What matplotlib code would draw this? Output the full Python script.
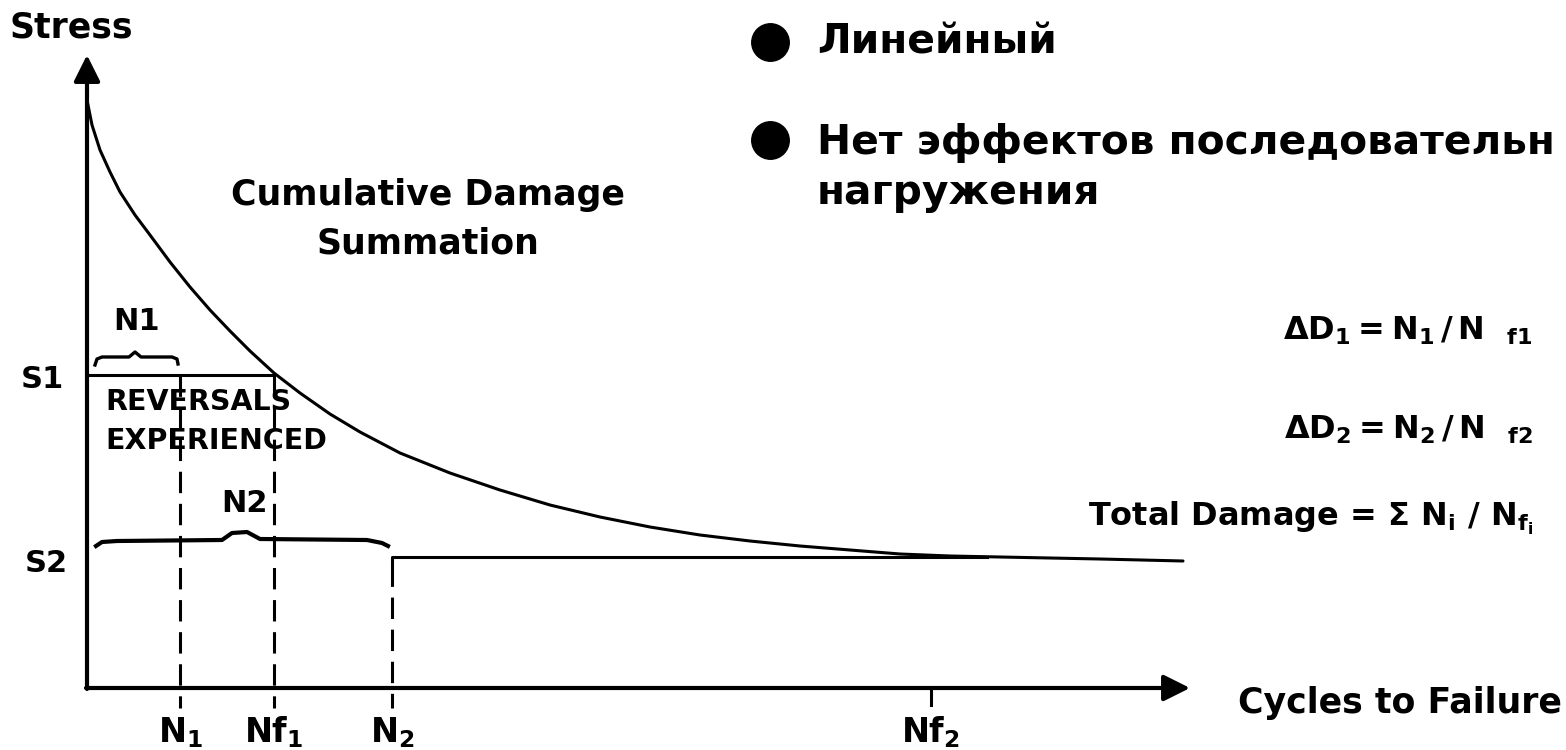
import matplotlib
matplotlib.use('Agg')
import matplotlib.pyplot as plt

# S-N curve (cycles, stress) in diagram units
cycles = [0.0, 0.5, 1.3, 2.3, 3.3, 4.8, 6.3, 8.3, 10.3, 12.3, 14.3, 16.3, 18.7,
          21.3, 24.3, 27.3, 31.3, 36.3, 41.3, 46.3, 51.3, 56.3, 61.3, 66.3,
          71.3, 76.3, 81.3, 86.3, 91.3, 96.3, 101.3, 109.6]
stress = [58.8, 56.3, 53.8, 51.6, 49.6, 47.3, 45.3, 42.6, 40.1, 37.8, 35.7, 33.7, 31.5,
          29.5, 27.4, 25.6, 23.5, 21.5, 19.8, 18.3, 17.1, 16.1, 15.3, 14.7,
          14.2, 13.8, 13.4, 13.2, 13.1, 13.0, 12.9, 12.7]

# stress levels and cycle counts
S1 = 31.3
S2 = 13.1
N1 = 9.3
Nf1 = 18.7
N2 = 30.5
Nf2 = 84.4
S2_end = 90.0

# braces over the cycle blocks
brace1_x = [0.8, 1.0, 1.5, 4.2, 4.8, 5.4, 8.5, 9.0, 9.1]
brace1_y = [32.3, 32.9, 33.1, 33.1, 33.6, 33.1, 33.1, 32.9, 32.4]
brace2_x = [0.9, 1.5, 3.0, 13.5, 14.5, 16.0, 17.3, 28.0, 29.5, 30.1]
brace2_y = [14.2, 14.6, 14.7, 14.8, 15.5, 15.6, 14.9, 14.8, 14.5, 14.2]

tick_labels = [r'$\mathrm{N}_1$', r'$\mathrm{Nf}_1$', r'$\mathrm{N}_2$', r'$\mathrm{Nf}_2$']
bullets = ['Линейный', 'Нет эффектов последовательн', 'нагружения']
formulas = [r'$\Delta\mathrm{D}_1 = \mathrm{N}_1\,/\,\mathrm{N}\ \ {}_{\mathrm{f1}}$',
            r'$\Delta\mathrm{D}_2 = \mathrm{N}_2\,/\,\mathrm{N}\ \ {}_{\mathrm{f2}}$',
            r'Total Damage = $\Sigma\ \mathrm{N}_\mathrm{i}\ /\ \mathrm{N}_{\mathrm{f}_\mathrm{i}}$']

plt.rcParams['font.family'] = ['DejaVu Sans']
plt.rcParams['mathtext.fontset'] = 'custom'
plt.rcParams['mathtext.rm'] = 'DejaVu Sans:bold'
plt.rcParams['mathtext.it'] = 'DejaVu Sans:bold'
plt.rcParams['mathtext.bf'] = 'DejaVu Sans:bold'
plt.rcParams['mathtext.sf'] = 'DejaVu Sans:bold'

fig = plt.figure(figsize=(15.66, 7.5), dpi=100)
ax = fig.add_axes([0, 0, 1, 1])
ax.set_xlim(-8.7, 147.9)
ax.set_ylim(-6.2, 68.8)
ax.axis('off')

lw = 2.2
dash = (0, (7, 3.5))

# axes with arrows
ax.annotate('', xy=(0, 63.3), xytext=(0, -0.1),
            arrowprops=dict(arrowstyle='-|>', lw=3, color='black', mutation_scale=40,
                            shrinkA=0, shrinkB=0))
ax.annotate('', xy=(110.3, 0), xytext=(-0.1, 0),
            arrowprops=dict(arrowstyle='-|>', lw=3, color='black', mutation_scale=40,
                            shrinkA=0, shrinkB=0))

# S-N curve
ax.plot(cycles, stress, color='black', lw=lw, solid_capstyle='round', solid_joinstyle='round')

# block 1 at S1
ax.plot([0, Nf1], [S1, S1], color='black', lw=lw)
ax.plot([N1, N1], [S1, -2.0], color='black', lw=lw, linestyle=dash)
ax.plot([Nf1, Nf1], [S1, -2.0], color='black', lw=lw, linestyle=dash)

# block 2 at S2
ax.plot([N2, N2, S2_end], [S2 - 0.8, S2, S2], color='black', lw=lw)
ax.plot([N2, N2], [S2 - 0.8, -2.0], color='black', lw=lw, linestyle=dash)
ax.plot([Nf2, Nf2], [0, -1.7], color='black', lw=lw)

# braces
ax.plot(brace1_x, brace1_y, color='black', lw=2.4, solid_joinstyle='round')
ax.plot(brace2_x, brace2_y, color='black', lw=3.0, solid_joinstyle='round')

big = dict(fontsize=25, fontweight='bold', color='black')
ax.text(-7.7, 66.1, 'Stress', ha='left', va='center', **big)
ax.text(34.1, 49.3, 'Cumulative Damage', ha='center', va='center', **big)
ax.text(34.1, 44.5, 'Summation', ha='center', va='center', **big)
ax.text(115.1, -2.5, 'Cycles to Failure', ha='left', va='baseline', **big)

ax.text(-4.5, 30.8, 'S1', ha='center', va='center', fontsize=22, fontweight='bold')
ax.text(-4.1, 12.5, 'S2', ha='center', va='center', fontsize=22, fontweight='bold')
ax.text(5.0, 36.6, 'N1', ha='center', va='center', fontsize=22, fontweight='bold')
ax.text(15.8, 18.5, 'N2', ha='center', va='center', fontsize=22, fontweight='bold')
ax.text(1.8, 28.6, 'REVERSALS', ha='left', va='center', fontsize=20.5, fontweight='bold')
ax.text(1.8, 24.7, 'EXPERIENCED', ha='left', va='center', fontsize=20.5, fontweight='bold')

for xv, lab in zip([N1, Nf1, N2, Nf2], tick_labels):
    ax.text(xv, -5.4, lab, ha='center', va='baseline', fontsize=24)

# bullets
ax.plot([68.3, 68.3], [64.6, 54.8], 'o', color='black', ms=27, linestyle='none')
rus = dict(ha='left', va='baseline', fontsize=29.3, fontweight='bold')
ax.text(73.0, 63.5, bullets[0], **rus)
ax.text(73.0, 53.4, bullets[1], **rus)
ax.text(73.0, 48.4, bullets[2], **rus)

for yv, f in zip([34.8, 24.9, 16.2], formulas):
    ax.text(144.6, yv, f, ha='right', va='baseline', fontsize=23, fontweight='bold')

fig.savefig('out.png', dpi=100)
